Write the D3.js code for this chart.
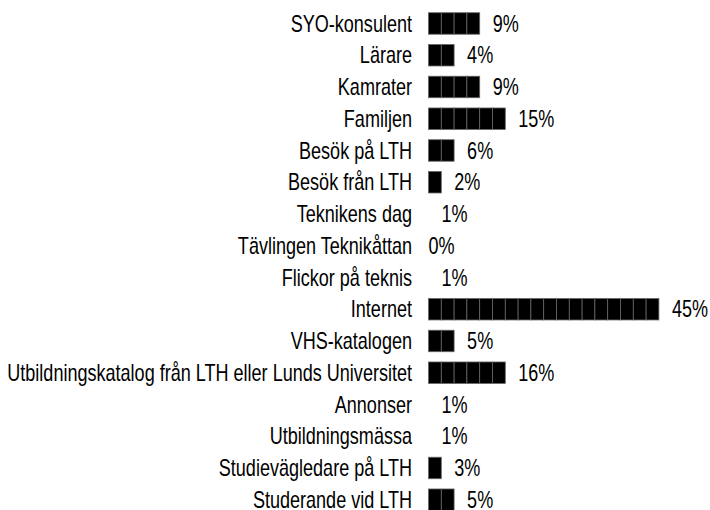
<!DOCTYPE html>
<html>
<head>
<meta charset="utf-8">
<script src="https://cdn.jsdelivr.net/npm/d3@7"></script>
<style>
  html, body { margin: 0; padding: 0; background: #fff; }
  svg { display: block; }
  text { font-family: "Liberation Sans", Arial, sans-serif; fill: #000; }
</style>
</head>
<body>
<svg id="chart" width="710" height="510"></svg>
<script>
const categories = [
  "SYO-konsulent",
  "Lärare",
  "Kamrater",
  "Familjen",
  "Besök på LTH",
  "Besök från LTH",
  "Teknikens dag",
  "Tävlingen Teknikåttan",
  "Flickor på teknis",
  "Internet",
  "VHS-katalogen",
  "Utbildningskatalog från LTH eller Lunds Universitet",
  "Annonser",
  "Utbildningsmässa",
  "Studievägledare på LTH",
  "Studerande vid LTH"
];
const values = [9, 4, 9, 15, 6, 2, 1, 0, 1, 45, 5, 16, 1, 1, 3, 5];
const valueLabels = ["9%", "4%", "9%", "15%", "6%", "2%", "1%", "0%", "1%", "45%", "5%", "16%", "1%", "1%", "3%", "5%"];
const unit = 2.5; // percent per pictogram block

const svg = d3.select("#chart");
const x0 = 428.5;
const blockW = 12.8;
const condense = 0.785; // horizontal squeeze to imitate a condensed face

const x = d3.scaleLinear()
  .domain([0, unit])
  .range([x0, x0 + blockW]);

const y = d3.scaleBand()
  .domain(categories)
  .range([7.6, 7.6 + 31.75 * categories.length])
  .paddingInner(0.323)
  .paddingOuter(0.1615);

const data = categories.map((c, i) => ({
  cat: c,
  value: values[i],
  label: valueLabels[i],
  blocks: Math.round(values[i] / unit)
}));

const fontSize = 23;

// category labels
svg.append("g")
  .selectAll("text")
  .data(data)
  .join("text")
  .attr("transform", d => `translate(${x0 - 16.5},${y(d.cat) + y.bandwidth() / 2}) scale(${condense},1)`)
  .attr("dy", "0.35em")
  .attr("text-anchor", "end")
  .style("font-size", fontSize + "px")
  .text(d => d.cat);

// pictogram blocks
const rows = svg.append("g")
  .selectAll("g")
  .data(data)
  .join("g");

rows.selectAll("rect")
  .data(d => d3.range(d.blocks).map(k => ({ cat: d.cat, k })))
  .join("rect")
  .attr("x", d => x(d.k * unit))
  .attr("y", d => y(d.cat))
  .attr("width", d => x((d.k + 1) * unit) - x(d.k * unit))
  .attr("height", y.bandwidth())
  .attr("fill", "#000")
  .attr("stroke", "#666")
  .attr("stroke-width", 0.8);

// value labels
svg.append("g")
  .selectAll("text")
  .data(data)
  .join("text")
  .attr("transform", d => `translate(${x(d.blocks * unit) + (d.value > 0 ? 13 : 0)},${y(d.cat) + y.bandwidth() / 2}) scale(${condense},1)`)
  .attr("dy", "0.35em")
  .attr("text-anchor", "start")
  .style("font-size", fontSize + "px")
  .text(d => d.label);
</script>
</body>
</html>
